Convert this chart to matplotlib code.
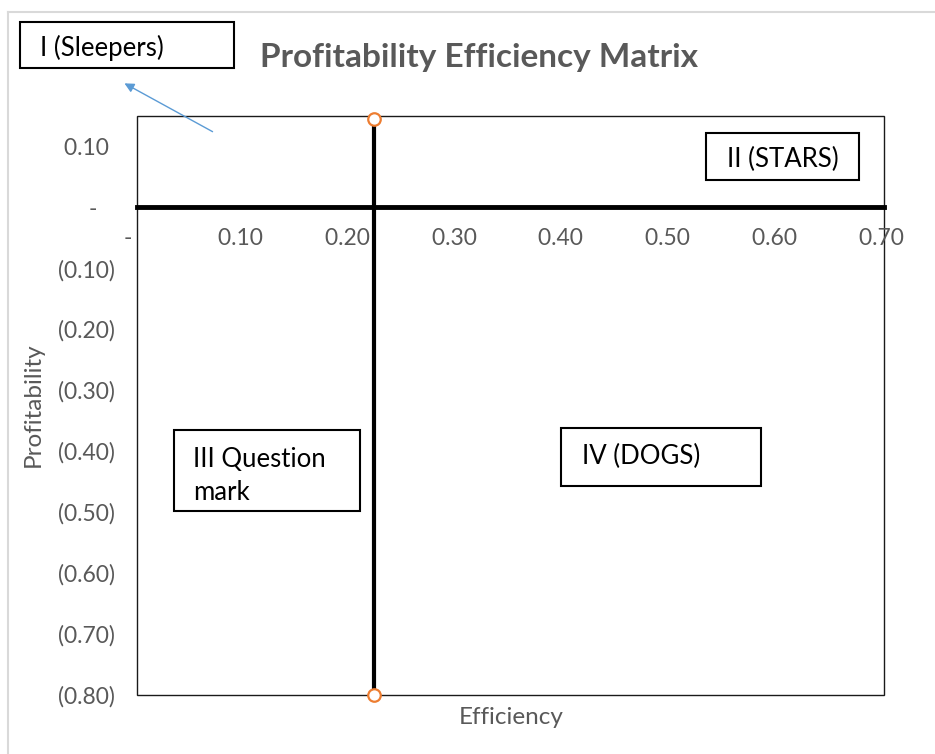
import numpy as np
import matplotlib
matplotlib.use("Agg")
import matplotlib.pyplot as plt
from matplotlib.patches import Rectangle
from matplotlib.lines import Line2D

# data
x_ticks = [0.0, 0.1, 0.2, 0.3, 0.4, 0.5, 0.6, 0.7]
y_ticks = [0.1, 0.0, -0.1, -0.2, -0.3, -0.4, -0.5, -0.6, -0.7, -0.8]
split_x = [0.222, 0.222]
split_y = [0.145, -0.80]
x_lim = (0.0, 0.70)
y_lim = (-0.80, 0.15)

quadrants = ["I (Sleepers)", "II (STARS)", "III Question\nmark", "IV (DOGS)"]


def acc_fmt(v):
    if abs(v) < 1e-9:
        return "-   "
    if v < 0:
        return "(%.2f)" % abs(v)
    return "%.2f " % v


plt.rcParams['font.family'] = ['Lato', 'DejaVu Sans']
grey = "#595959"

fig = plt.figure(figsize=(9.35, 7.54), dpi=100)
ax = fig.add_axes([137 / 935, 1 - 695 / 754, (884 - 137) / 935, (695 - 116) / 754])

ax.plot(split_x, split_y, color="black", lw=3, marker="o", ms=9,
        mfc="white", mec="#ED7D31", mew=1.6, zorder=3, clip_on=False)

ax.set_xlim(*x_lim)
ax.set_ylim(*y_lim)
ax.set_xticks(x_ticks)
ax.set_xticklabels([acc_fmt(v) for v in x_ticks])
ax.set_yticks(y_ticks)
ax.set_yticklabels([acc_fmt(v) for v in y_ticks])

for s in ["top", "right", "left"]:
    ax.spines[s].set_visible(False)
ax.spines["bottom"].set_position(("data", 0))
ax.spines["bottom"].set_linewidth(3.5)
ax.spines["bottom"].set_color("black")
ax.add_patch(Rectangle((0, 0), 1, 1, transform=ax.transAxes, fill=False,
                       ec="#1a1a1a", lw=1, zorder=1, clip_on=False))

ax.tick_params(axis="x", length=0, pad=15, labelsize=16.5, labelcolor=grey)
ax.tick_params(axis="y", length=0, pad=16, labelsize=16.5, labelcolor=grey)

fig.text(33 / 935, 1 - 405 / 754, "Profitability", rotation=90, ha="center",
         va="center", fontsize=17.5, color=grey)
fig.text(511 / 935, 1 - 717 / 754, "Efficiency", ha="center", va="center",
         fontsize=17.5, color=grey)
fig.text(479 / 935, 1 - 58 / 754, "Profitability Efficiency Matrix",
         ha="center", va="center", fontsize=24, fontweight="bold", color=grey)

# chart area border
fig.add_artist(Line2D([8 / 935, 8 / 935], [0, 1 - 12 / 754], color="#d9d9d9", lw=1.5))
fig.add_artist(Line2D([8 / 935, 1], [1 - 12 / 754, 1 - 12 / 754], color="#d9d9d9", lw=1.5))

# quadrant boxes (x0, y0, x1, y1 in pixels)
boxes = [(20, 22, 234, 68), (706, 133, 859, 180), (174, 430, 360, 511), (561, 428, 761, 486)]
text_pos = [(40, 48, "left"), (727, 159, "left"), (193, 476, "left"), (582, 456, "left")]
for (x0, y0, x1, y1), (tx, ty, ha), lab in zip(boxes, text_pos, quadrants):
    fig.add_artist(Rectangle((x0 / 935, 1 - y1 / 754), (x1 - x0) / 935, (y1 - y0) / 754,
                             fill=True, fc="white", ec="black", lw=1.5,
                             transform=fig.transFigure))
    fig.text(tx / 935, 1 - ty / 754, lab, ha=ha, va="center", fontsize=18.5,
             color="black", linespacing=1.42)

ax.annotate("", xy=(122 / 935, 1 - 82 / 754), xytext=(215 / 935, 1 - 133 / 754),
            xycoords="figure fraction", textcoords="figure fraction",
            arrowprops=dict(arrowstyle="-|>", color="#5B9BD5", lw=1, mutation_scale=14),
            annotation_clip=False)

fig.savefig("out.png", dpi=100)
